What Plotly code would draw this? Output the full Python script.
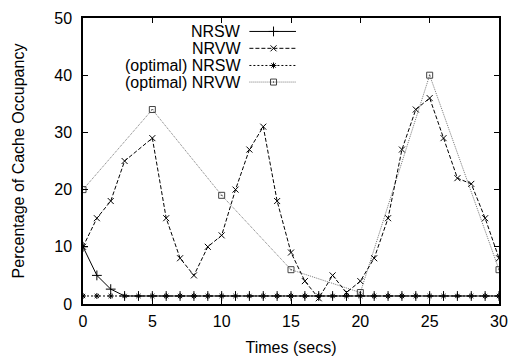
import plotly.graph_objects as go

x_all = list(range(0, 31))
nrsw = [10, 5, 2.6] + [1.4] * 28
nrvw_x = [0, 1, 2, 3, 5, 6, 7, 8, 9, 10, 11, 12, 13, 14, 15, 16, 17, 18, 19, 20,
          21, 22, 23, 24, 25, 26, 27, 28, 29, 30]
nrvw = [10, 15, 18, 25, 29, 15, 8, 5, 10, 12, 20, 27, 31, 18, 9, 4, 1, 5, 2, 4,
        8, 15, 27, 34, 36, 29, 22, 21, 15, 8]
opt_nrsw = [1.4] * 31
opt_nrvw_x = [0, 5, 10, 15, 20, 25, 30]
opt_nrvw = [20, 34, 19, 6, 2, 40, 6]

names = ["NRSW", "NRVW", "(optimal) NRSW", "(optimal) NRVW"]
FONT = "Liberation Sans, Arial, Helvetica, sans-serif"

styles = [
    dict(line=dict(color="black", width=1, dash="solid"),
         marker=dict(symbol="cross-thin-open", size=7, color="black", line=dict(color="black", width=1))),
    dict(line=dict(color="black", width=1, dash="4px,2px"),
         marker=dict(symbol="x-thin-open", size=6, color="black", line=dict(color="black", width=1))),
    dict(line=dict(color="black", width=1, dash="2px,2px"),
         marker=dict(symbol="asterisk-open", size=5, color="black", line=dict(color="black", width=1))),
    dict(line=dict(color="#777777", width=1, dash="1px,1px"),
         marker=dict(symbol="square-open-dot", size=6, color="#444444", line=dict(color="#444444", width=1))),
]

fig = go.Figure()
series = [(x_all, nrsw), (nrvw_x, nrvw), (x_all, opt_nrsw), (opt_nrvw_x, opt_nrvw)]
order = [3, 2, 1, 0]
for i in order:
    xs, ys = series[i]
    fig.add_trace(go.Scatter(x=xs, y=ys, mode="lines+markers", name=names[i],
                             line=styles[i]["line"], marker=styles[i]["marker"],
                             showlegend=False))

# gnuplot-style key (text left, sample right) on overlay axes
key_y = [0.953, 0.894, 0.834, 0.776]
for i in range(4):
    fig.add_trace(go.Scatter(x=[0.40, 0.512], y=[key_y[i]] * 2, mode="lines",
                             line=styles[i]["line"], xaxis="x2", yaxis="y2",
                             showlegend=False, hoverinfo="skip"))
    fig.add_trace(go.Scatter(x=[0.458], y=[key_y[i]], mode="markers",
                             marker=styles[i]["marker"], xaxis="x2", yaxis="y2",
                             showlegend=False, hoverinfo="skip"))
    fig.add_annotation(x=0.38, y=key_y[i], xref="x2", yref="y2", text=names[i],
                       showarrow=False, xanchor="right", yanchor="middle",
                       xshift=2,
                       font=dict(size=16, color="black", family=FONT))

fig.update_layout(
    width=518, height=364,
    margin=dict(l=83, r=16, t=10, b=58),
    paper_bgcolor="white", plot_bgcolor="white",
    font=dict(family=FONT, color="black"),
    xaxis=dict(range=[0, 30], tickvals=[0, 5, 10, 15, 20, 25, 30],
               ticks="inside", ticklen=5, tickcolor="black", mirror="ticks",
               showline=True, linecolor="black", linewidth=1.5, showgrid=False,
               zeroline=False, tickfont=dict(size=16), ticklabelstandoff=2,
               title=dict(text="Times (secs)", font=dict(size=16), standoff=13)),
    yaxis=dict(range=[0, 50], tickvals=[0, 10, 20, 30, 40, 50],
               ticks="inside", ticklen=5, tickcolor="black", mirror="ticks",
               showline=True, linecolor="black", linewidth=1.5, showgrid=False,
               zeroline=False, tickfont=dict(size=16), ticklabelstandoff=6,
               title=dict(text="Percentage of Cache Occupancy", font=dict(size=16), standoff=26)),
    xaxis2=dict(range=[0, 1], overlaying="x", visible=False, fixedrange=True),
    yaxis2=dict(range=[0, 1], overlaying="y", visible=False, fixedrange=True),
)

fig.write_html("out.html")
